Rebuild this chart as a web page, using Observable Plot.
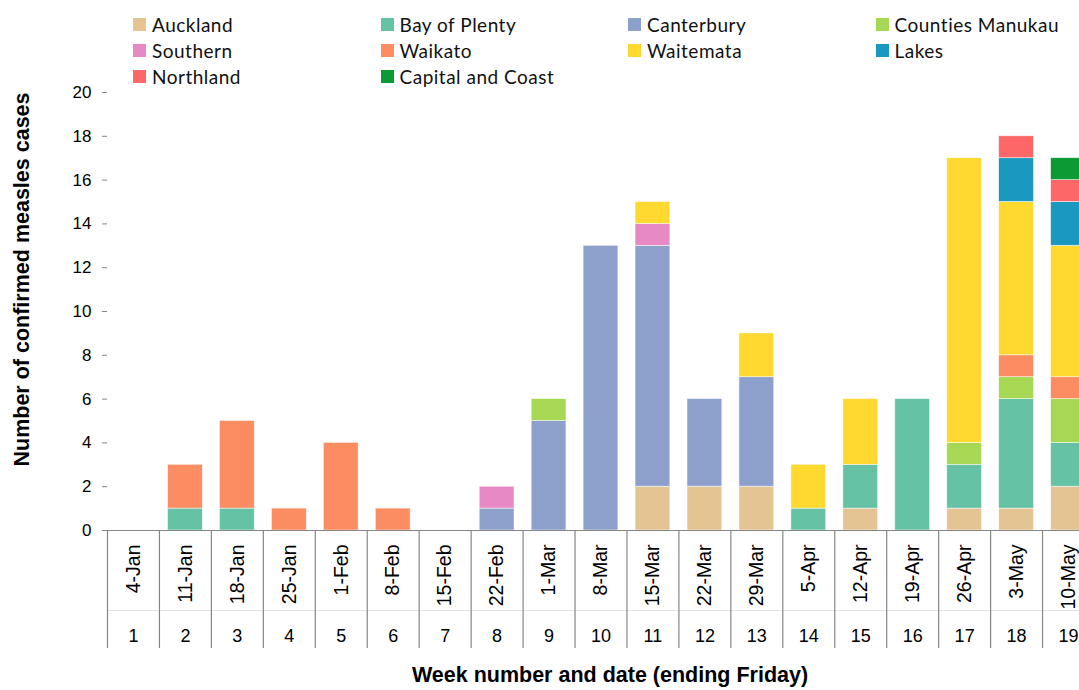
<!DOCTYPE html>
<html>
<head>
<meta charset="utf-8">
<script src="https://cdn.jsdelivr.net/npm/d3@7"></script>
<script src="https://cdn.jsdelivr.net/npm/@observablehq/plot@0.6"></script>
<style>
  html, body { margin: 0; padding: 0; background: #fff; overflow: hidden; }
  #legend { position: relative; height: 84px; width: 1079px; font-family: Lato, "Open Sans", sans-serif; font-size: 19px; color: #111; }
  .item { position: absolute; display: flex; align-items: center; white-space: nowrap; letter-spacing: 0.5px; }
  .sw { width: 13px; height: 13px; margin-right: 6px; flex: none; }
  #chart { width: 1079px; overflow: hidden; }
  #chart svg { display: block; max-width: none !important; width: 1094px !important; height: 606px !important; }
</style>
</head>
<body>
<div id="legend"></div>
<div id="chart"></div>
<script>
const weeks = [1,2,3,4,5,6,7,8,9,10,11,12,13,14,15,16,17,18,19];
const dates = ["4-Jan","11-Jan","18-Jan","25-Jan","1-Feb","8-Feb","15-Feb","22-Feb","1-Mar","8-Mar","15-Mar","22-Mar","29-Mar","5-Apr","12-Apr","19-Apr","26-Apr","3-May","10-May"];

const regions = ["Auckland","Bay of Plenty","Canterbury","Counties Manukau","Southern","Waikato","Waitemata","Lakes","Northland","Capital and Coast"];
const colors  = ["#E5C494","#66C2A5","#8DA0CB","#A6D854","#E78AC3","#FC8D62","#FFD92F","#1A98C0","#FD6767","#0C9A34"];

const auckland   = [0,0,0,0,0,0,0,0,0,0,2,2,2,0,1,0,1,1,2];
const bayOfPlenty= [0,1,1,0,0,0,0,0,0,0,0,0,0,1,2,6,2,5,2];
const canterbury = [0,0,0,0,0,0,0,1,5,13,11,4,5,0,0,0,0,0,0];
const counties   = [0,0,0,0,0,0,0,0,1,0,0,0,0,0,0,0,1,1,2];
const southern   = [0,0,0,0,0,0,0,1,0,0,1,0,0,0,0,0,0,0,0];
const waikato    = [0,2,4,1,4,1,0,0,0,0,0,0,0,0,0,0,0,1,1];
const waitemata  = [0,0,0,0,0,0,0,0,0,0,1,0,2,2,3,0,13,7,6];
const lakes      = [0,0,0,0,0,0,0,0,0,0,0,0,0,0,0,0,0,2,2];
const northland  = [0,0,0,0,0,0,0,0,0,0,0,0,0,0,0,0,0,1,1];
const capital    = [0,0,0,0,0,0,0,0,0,0,0,0,0,0,0,0,0,0,1];

const yTicks = [0,2,4,6,8,10,12,14,16,18,20];

const series = [auckland,bayOfPlenty,canterbury,counties,southern,waikato,waitemata,lakes,northland,capital];
const data = [];
regions.forEach((r, i) => {
  series[i].forEach((v, j) => { if (v > 0) data.push({week: weeks[j], region: r, count: v}); });
});

// Legend (4 columns, row-major)
const legend = document.getElementById("legend");
regions.forEach((r, i) => {
  const col = i % 4, row = Math.floor(i / 4);
  const el = document.createElement("div");
  el.className = "item";
  el.style.left = (133 + col * 247.5) + "px";
  el.style.top = (13 + row * 26) + "px";
  el.innerHTML = `<span class="sw" style="background:${colors[i]}"></span><span>${r}</span>`;
  legend.appendChild(el);
});

const W = 1094, H = 606, mL = 107, mR = 0, mT = 8, mB = 160;
const step = (W - mL - mR) / weeks.length;
const plotH = H - mT - mB;
const grey = "#868686";
const font = "'Liberation Sans', Arial, sans-serif";

const chart = Plot.plot({
  width: W, height: H,
  marginLeft: mL, marginRight: mR, marginTop: mT, marginBottom: mB,
  style: { fontFamily: font, color: "#000", background: "transparent", overflow: "visible" },
  x: { type: "band", domain: weeks, paddingInner: 0.33, paddingOuter: 0.165, round: false, axis: null },
  y: { domain: [0, 20], axis: null },
  color: { domain: regions, range: colors },
  marks: [
    Plot.barY(data, { x: "week", y: "count", fill: "region", order: regions, stroke: "#fff", strokeWidth: 0.7, strokeOpacity: 0.7 }),
    // y axis
    Plot.axisY({ ticks: yTicks, tickSize: 5, tickPadding: 11, fontSize: 17, stroke: grey, line: true, label: null, tickFormat: d => d }),
    // x baseline
    Plot.ruleY([0], { stroke: grey, strokeWidth: 1.2 }),
    // faint divider between the two label tiers
    Plot.ruleY([0], { dy: 80, stroke: "#e2e2e2", strokeWidth: 1 }),
    // category separators below the axis
    Plot.ruleX(weeks, { x: d => d, dx: -step / 2, stroke: grey, strokeWidth: 1.2, insetTop: plotH, insetBottom: -118 }),
    // date labels (rotated, top-aligned just under the axis)
    Plot.text(weeks, { x: d => d, text: (d, i) => dates[i], frameAnchor: "bottom", dy: 14, rotate: -90, textAnchor: "end", lineAnchor: "middle", fontSize: 19.5, fill: "#000" }),
    // week numbers
    Plot.text(weeks, { x: d => d, text: d => String(d), frameAnchor: "bottom", dy: 106, lineAnchor: "middle", fontSize: 18, fill: "#000" }),
    // axis titles
    Plot.text(["Week number and date (ending Friday)"], { frameAnchor: "bottom", dx: 9, dy: 145, lineAnchor: "middle", fontSize: 21.5, fontWeight: "bold", fill: "#000", style: "word-spacing:-2px" }),
    Plot.text(["Number of confirmed measles cases"], { frameAnchor: "left", dx: -85, dy: -32, rotate: -90, textAnchor: "middle", lineAnchor: "middle", fontSize: 21.5, fontWeight: "bold", fill: "#000" })
  ]
});
document.getElementById("chart").appendChild(chart);
</script>
</body>
</html>
